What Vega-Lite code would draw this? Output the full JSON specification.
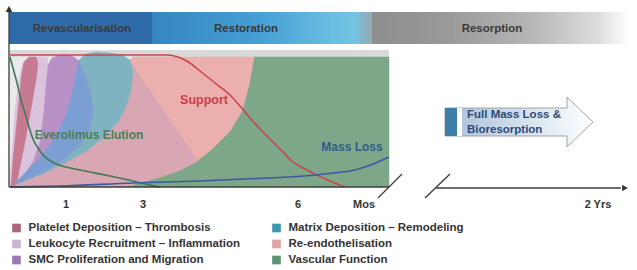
{
  "$schema": "https://vega.github.io/schema/vega-lite/v6.json",
  "width": 637,
  "height": 270,
  "autosize": {"type": "fit", "contains": "padding"},
  "padding": 0,
  "background": "white",
  "config": {"view": {"stroke": null}, "text": {"font": "Liberation Sans"}},
  "datasets": {
    "rects": [
      {"id": "band1", "x": 9, "x2": 152, "y": 12, "y2": 44},
      {"id": "band2", "x": 152, "x2": 372, "y": 12, "y2": 44},
      {"id": "band3", "x": 372, "x2": 637, "y": 12, "y2": 44},
      {"id": "frame", "x": 9, "x2": 389, "y": 57, "y2": 187},
      {"id": "topbar", "x": 9, "x2": 389, "y": 50, "y2": 57},
      {"id": "strip1", "x": 445, "x2": 457, "y": 108, "y2": 136},
      {"id": "strip2", "x": 457, "x2": 462, "y": 108, "y2": 136}
    ],
    "shapes": [
      {"s": "green", "i": 0, "x": 128, "y": 187}, {"s": "green", "i": 1, "x": 137, "y": 183}, {"s": "green", "i": 2, "x": 157, "y": 178}, {"s": "green", "i": 3, "x": 180, "y": 170}, {"s": "green", "i": 4, "x": 197, "y": 161}, {"s": "green", "i": 5, "x": 213, "y": 148}, {"s": "green", "i": 6, "x": 230, "y": 131}, {"s": "green", "i": 7, "x": 242, "y": 111}, {"s": "green", "i": 8, "x": 249, "y": 85}, {"s": "green", "i": 9, "x": 252, "y": 68}, {"s": "green", "i": 10, "x": 254, "y": 57}, {"s": "green", "i": 11, "x": 389, "y": 57}, {"s": "green", "i": 12, "x": 389, "y": 187},
      {"s": "pink", "i": 0, "x": 10, "y": 187}, {"s": "pink", "i": 1, "x": 133, "y": 57}, {"s": "pink", "i": 2, "x": 254, "y": 57}, {"s": "pink", "i": 3, "x": 252, "y": 68}, {"s": "pink", "i": 4, "x": 249, "y": 85}, {"s": "pink", "i": 5, "x": 242, "y": 111}, {"s": "pink", "i": 6, "x": 230, "y": 131}, {"s": "pink", "i": 7, "x": 213, "y": 148}, {"s": "pink", "i": 8, "x": 197, "y": 161}, {"s": "pink", "i": 9, "x": 180, "y": 170}, {"s": "pink", "i": 10, "x": 157, "y": 178}, {"s": "pink", "i": 11, "x": 137, "y": 183}, {"s": "pink", "i": 12, "x": 128, "y": 187},
      {"s": "mauve", "i": 0, "x": 10, "y": 187}, {"s": "mauve", "i": 1, "x": 132, "y": 64}, {"s": "mauve", "i": 2, "x": 198, "y": 161}, {"s": "mauve", "i": 3, "x": 180, "y": 170}, {"s": "mauve", "i": 4, "x": 157, "y": 178}, {"s": "mauve", "i": 5, "x": 137, "y": 183}, {"s": "mauve", "i": 6, "x": 128, "y": 187},
      {"s": "teal", "i": 0, "x": 10, "y": 187}, {"s": "teal", "i": 1, "x": 22, "y": 176}, {"s": "teal", "i": 2, "x": 40, "y": 158}, {"s": "teal", "i": 3, "x": 55, "y": 138}, {"s": "teal", "i": 4, "x": 65, "y": 118}, {"s": "teal", "i": 5, "x": 72, "y": 95}, {"s": "teal", "i": 6, "x": 76, "y": 75}, {"s": "teal", "i": 7, "x": 79, "y": 60}, {"s": "teal", "i": 8, "x": 86, "y": 54}, {"s": "teal", "i": 9, "x": 97, "y": 52}, {"s": "teal", "i": 10, "x": 110, "y": 53}, {"s": "teal", "i": 11, "x": 122, "y": 55}, {"s": "teal", "i": 12, "x": 130, "y": 60}, {"s": "teal", "i": 13, "x": 133, "y": 72}, {"s": "teal", "i": 14, "x": 131, "y": 90}, {"s": "teal", "i": 15, "x": 126, "y": 106}, {"s": "teal", "i": 16, "x": 118, "y": 122}, {"s": "teal", "i": 17, "x": 105, "y": 136}, {"s": "teal", "i": 18, "x": 88, "y": 150}, {"s": "teal", "i": 19, "x": 65, "y": 163}, {"s": "teal", "i": 20, "x": 40, "y": 175},
      {"s": "leuko", "i": 0, "x": 10, "y": 187}, {"s": "leuko", "i": 1, "x": 12, "y": 150}, {"s": "leuko", "i": 2, "x": 15, "y": 110}, {"s": "leuko", "i": 3, "x": 19, "y": 80}, {"s": "leuko", "i": 4, "x": 23, "y": 63}, {"s": "leuko", "i": 5, "x": 28, "y": 58}, {"s": "leuko", "i": 6, "x": 40, "y": 57}, {"s": "leuko", "i": 7, "x": 48, "y": 58}, {"s": "leuko", "i": 8, "x": 46, "y": 85}, {"s": "leuko", "i": 9, "x": 44, "y": 112}, {"s": "leuko", "i": 10, "x": 40, "y": 142}, {"s": "leuko", "i": 11, "x": 33, "y": 162}, {"s": "leuko", "i": 12, "x": 22, "y": 178},
      {"s": "smc", "i": 0, "x": 10, "y": 187}, {"s": "smc", "i": 1, "x": 22, "y": 178}, {"s": "smc", "i": 2, "x": 33, "y": 162}, {"s": "smc", "i": 3, "x": 40, "y": 142}, {"s": "smc", "i": 4, "x": 44, "y": 112}, {"s": "smc", "i": 5, "x": 46, "y": 85}, {"s": "smc", "i": 6, "x": 48, "y": 65}, {"s": "smc", "i": 7, "x": 52, "y": 58}, {"s": "smc", "i": 8, "x": 60, "y": 55}, {"s": "smc", "i": 9, "x": 68, "y": 55}, {"s": "smc", "i": 10, "x": 74, "y": 57}, {"s": "smc", "i": 11, "x": 79, "y": 61}, {"s": "smc", "i": 12, "x": 86, "y": 78}, {"s": "smc", "i": 13, "x": 91, "y": 95}, {"s": "smc", "i": 14, "x": 93, "y": 112}, {"s": "smc", "i": 15, "x": 90, "y": 128}, {"s": "smc", "i": 16, "x": 80, "y": 145}, {"s": "smc", "i": 17, "x": 63, "y": 160}, {"s": "smc", "i": 18, "x": 40, "y": 174},
      {"s": "blue", "i": 0, "x": 10, "y": 187}, {"s": "blue", "i": 1, "x": 22, "y": 176}, {"s": "blue", "i": 2, "x": 40, "y": 158}, {"s": "blue", "i": 3, "x": 55, "y": 138}, {"s": "blue", "i": 4, "x": 65, "y": 118}, {"s": "blue", "i": 5, "x": 72, "y": 95}, {"s": "blue", "i": 6, "x": 76, "y": 75}, {"s": "blue", "i": 7, "x": 79, "y": 61}, {"s": "blue", "i": 8, "x": 86, "y": 78}, {"s": "blue", "i": 9, "x": 91, "y": 95}, {"s": "blue", "i": 10, "x": 93, "y": 112}, {"s": "blue", "i": 11, "x": 90, "y": 128}, {"s": "blue", "i": 12, "x": 80, "y": 145}, {"s": "blue", "i": 13, "x": 63, "y": 160}, {"s": "blue", "i": 14, "x": 40, "y": 174},
      {"s": "platelet", "i": 0, "x": 11, "y": 186}, {"s": "platelet", "i": 1, "x": 13, "y": 160}, {"s": "platelet", "i": 2, "x": 16, "y": 130}, {"s": "platelet", "i": 3, "x": 19, "y": 100}, {"s": "platelet", "i": 4, "x": 22, "y": 72}, {"s": "platelet", "i": 5, "x": 24, "y": 62}, {"s": "platelet", "i": 6, "x": 29, "y": 57}, {"s": "platelet", "i": 7, "x": 36, "y": 57}, {"s": "platelet", "i": 8, "x": 38, "y": 63}, {"s": "platelet", "i": 9, "x": 36, "y": 80}, {"s": "platelet", "i": 10, "x": 33, "y": 98}, {"s": "platelet", "i": 11, "x": 29, "y": 120}, {"s": "platelet", "i": 12, "x": 25, "y": 142}, {"s": "platelet", "i": 13, "x": 21, "y": 162}, {"s": "platelet", "i": 14, "x": 17, "y": 181}, {"s": "platelet", "i": 15, "x": 13, "y": 187},
      {"s": "arrow", "i": 0, "x": 445, "y": 108}, {"s": "arrow", "i": 1, "x": 567, "y": 108}, {"s": "arrow", "i": 2, "x": 567, "y": 97}, {"s": "arrow", "i": 3, "x": 593, "y": 122}, {"s": "arrow", "i": 4, "x": 567, "y": 147}, {"s": "arrow", "i": 5, "x": 567, "y": 136}, {"s": "arrow", "i": 6, "x": 445, "y": 136}, {"s": "arrow", "i": 7, "x": 445, "y": 108}
    ],
    "curves": [
      {"s": "Support", "x": 10, "y": 55}, {"s": "Support", "x": 167, "y": 55}, {"s": "Support", "x": 178, "y": 57}, {"s": "Support", "x": 190, "y": 63}, {"s": "Support", "x": 200, "y": 71}, {"s": "Support", "x": 215, "y": 83}, {"s": "Support", "x": 230, "y": 95}, {"s": "Support", "x": 240, "y": 106}, {"s": "Support", "x": 250, "y": 118}, {"s": "Support", "x": 260, "y": 129}, {"s": "Support", "x": 270, "y": 139}, {"s": "Support", "x": 282, "y": 151}, {"s": "Support", "x": 293, "y": 162}, {"s": "Support", "x": 305, "y": 169}, {"s": "Support", "x": 317, "y": 175}, {"s": "Support", "x": 330, "y": 181}, {"s": "Support", "x": 345, "y": 187},
      {"s": "Everolimus", "x": 10, "y": 57}, {"s": "Everolimus", "x": 13, "y": 68}, {"s": "Everolimus", "x": 17, "y": 83}, {"s": "Everolimus", "x": 21, "y": 100}, {"s": "Everolimus", "x": 25, "y": 113}, {"s": "Everolimus", "x": 29, "y": 127}, {"s": "Everolimus", "x": 33, "y": 139}, {"s": "Everolimus", "x": 38, "y": 148}, {"s": "Everolimus", "x": 44, "y": 156}, {"s": "Everolimus", "x": 52, "y": 162}, {"s": "Everolimus", "x": 62, "y": 166}, {"s": "Everolimus", "x": 75, "y": 169}, {"s": "Everolimus", "x": 90, "y": 172}, {"s": "Everolimus", "x": 110, "y": 176}, {"s": "Everolimus", "x": 133, "y": 181}, {"s": "Everolimus", "x": 150, "y": 185}, {"s": "Everolimus", "x": 160, "y": 187},
      {"s": "Mass", "x": 10, "y": 187}, {"s": "Mass", "x": 60, "y": 186}, {"s": "Mass", "x": 133, "y": 183}, {"s": "Mass", "x": 200, "y": 181}, {"s": "Mass", "x": 267, "y": 178}, {"s": "Mass", "x": 310, "y": 175.5}, {"s": "Mass", "x": 333, "y": 173}, {"s": "Mass", "x": 350, "y": 171}, {"s": "Mass", "x": 365, "y": 167}, {"s": "Mass", "x": 378, "y": 162}, {"s": "Mass", "x": 389, "y": 157}
    ],
    "rules": [
      {"id": "yaxis", "x": 9, "y": 187, "x2": 9, "y2": 11},
      {"id": "xaxis", "x": 9, "y": 187, "x2": 389, "y2": 187},
      {"id": "slash1", "x": 378, "y": 198, "x2": 402, "y2": 174},
      {"id": "slash2", "x": 425, "y": 198, "x2": 450, "y2": 174},
      {"id": "xaxis2", "x": 436, "y": 188, "x2": 621, "y2": 188}
    ],
    "heads": [
      {"dir": "up", "x": 9, "y": 9},
      {"dir": "right", "x": 625, "y": 188}
    ],
    "texts": [
      {"g": "hdr", "t": "Revascularisation", "x": 82, "y": 29},
      {"g": "hdr", "t": "Restoration", "x": 246, "y": 29},
      {"g": "hdr", "t": "Resorption", "x": 492, "y": 29},
      {"g": "evero", "t": "Everolimus Elution", "x": 89, "y": 135},
      {"g": "support", "t": "Support", "x": 204, "y": 100},
      {"g": "mass", "t": "Mass Loss", "x": 352, "y": 147},
      {"g": "axis", "t": "1", "x": 66, "y": 205},
      {"g": "axis", "t": "3", "x": 143, "y": 205},
      {"g": "axis", "t": "6", "x": 298, "y": 205},
      {"g": "axis", "t": "Mos", "x": 364, "y": 205},
      {"g": "axis", "t": "2 Yrs", "x": 598, "y": 205},
      {"g": "arrow", "t": "Full Mass Loss &", "x": 467, "y": 115},
      {"g": "arrow", "t": "Bioresorption", "x": 467, "y": 130}
    ],
    "legend": [
      {"key": "Platelet", "label": "Platelet Deposition – Thrombosis", "x": 16.5, "y": 228},
      {"key": "Leukocyte", "label": "Leukocyte Recruitment – Inflammation", "x": 16.5, "y": 244},
      {"key": "SMC", "label": "SMC Proliferation and Migration", "x": 16.5, "y": 260},
      {"key": "Matrix", "label": "Matrix Deposition – Remodeling", "x": 276.5, "y": 228},
      {"key": "Reendo", "label": "Re-endothelisation", "x": 276.5, "y": 244},
      {"key": "Vascular", "label": "Vascular Function", "x": 276.5, "y": 260}
    ]
  },
  "encoding": {
    "x": {"field": "x", "type": "quantitative", "scale": {"domain": [0, 637], "nice": false, "zero": false}, "axis": null},
    "y": {"field": "y", "type": "quantitative", "scale": {"domain": [0, 270], "reverse": true, "nice": false, "zero": false}, "axis": null}
  },
  "layer": [
    {"data": {"name": "rects"}, "transform": [{"filter": "datum.id == 'band1'"}], "mark": {"type": "rect", "fill": "#2f6ca9"}, "encoding": {"x2": {"field": "x2"}, "y2": {"field": "y2"}}},
    {"data": {"name": "rects"}, "transform": [{"filter": "datum.id == 'band2'"}], "mark": {"type": "rect", "fill": {"gradient": "linear", "x1": 0, "y1": 0, "x2": 1, "y2": 0, "stops": [{"offset": 0, "color": "#3586c0"}, {"offset": 0.5, "color": "#45a0d4"}, {"offset": 0.82, "color": "#69bee2"}, {"offset": 0.92, "color": "#74c3e2"}, {"offset": 1, "color": "#98a8b0"}]}}, "encoding": {"x2": {"field": "x2"}, "y2": {"field": "y2"}}},
    {"data": {"name": "rects"}, "transform": [{"filter": "datum.id == 'band3'"}], "mark": {"type": "rect", "fill": {"gradient": "linear", "x1": 0, "y1": 0, "x2": 1, "y2": 0, "stops": [{"offset": 0, "color": "#8e8e8e"}, {"offset": 0.3, "color": "#9a9a9a"}, {"offset": 0.6, "color": "#b6b6b6"}, {"offset": 0.85, "color": "#dcdcdc"}, {"offset": 0.97, "color": "#ffffff"}, {"offset": 1, "color": "#ffffff"}]}}, "encoding": {"x2": {"field": "x2"}, "y2": {"field": "y2"}}},
    {"data": {"name": "rects"}, "transform": [{"filter": "datum.id == 'topbar'"}], "mark": {"type": "rect", "fill": "#d9d9d9"}, "encoding": {"x2": {"field": "x2"}, "y2": {"field": "y2"}}},
    {"data": {"name": "rects"}, "transform": [{"filter": "datum.id == 'frame'"}], "mark": {"type": "rect", "fill": "#ebe8ea"}, "encoding": {"x2": {"field": "x2"}, "y2": {"field": "y2"}}},
    {"data": {"name": "shapes"}, "transform": [{"filter": "datum.s == 'green'"}], "mark": {"type": "line", "fill": "#7da788", "stroke": "#7da788", "strokeWidth": 0.5}, "encoding": {"order": {"field": "i"}}},
    {"data": {"name": "shapes"}, "transform": [{"filter": "datum.s == 'pink'"}], "mark": {"type": "line", "fill": "#ebb0ae", "stroke": "#ebb0ae", "strokeWidth": 0.5}, "encoding": {"order": {"field": "i"}}},
    {"data": {"name": "shapes"}, "transform": [{"filter": "datum.s == 'mauve'"}], "mark": {"type": "line", "fill": "#d8a7b3", "stroke": "#d8a7b3", "strokeWidth": 0.5}, "encoding": {"order": {"field": "i"}}},
    {"data": {"name": "shapes"}, "transform": [{"filter": "datum.s == 'teal'"}], "mark": {"type": "line", "fill": "#7fb3c2", "stroke": "#7fb3c2", "strokeWidth": 0.5}, "encoding": {"order": {"field": "i"}}},
    {"data": {"name": "shapes"}, "transform": [{"filter": "datum.s == 'leuko'"}], "mark": {"type": "line", "fill": "#dcc3dd", "stroke": "#dcc3dd", "strokeWidth": 0.5}, "encoding": {"order": {"field": "i"}}},
    {"data": {"name": "shapes"}, "transform": [{"filter": "datum.s == 'smc'"}], "mark": {"type": "line", "fill": "#b892c7", "stroke": "#b892c7", "strokeWidth": 0.5}, "encoding": {"order": {"field": "i"}}},
    {"data": {"name": "shapes"}, "transform": [{"filter": "datum.s == 'blue'"}], "mark": {"type": "line", "fill": "#7b9fd2", "stroke": "#7b9fd2", "strokeWidth": 0.5}, "encoding": {"order": {"field": "i"}}},
    {"data": {"name": "shapes"}, "transform": [{"filter": "datum.s == 'platelet'"}], "mark": {"type": "line", "fill": "#c67a92", "stroke": "#c67a92", "strokeWidth": 0.5}, "encoding": {"order": {"field": "i"}}},
    {"data": {"name": "curves"}, "mark": {"type": "line", "interpolate": "monotone", "strokeWidth": 1.6}, "encoding": {"detail": {"field": "s"}, "stroke": {"field": "s", "type": "nominal", "scale": {"domain": ["Support", "Everolimus", "Mass"], "range": ["#c9474c", "#3f7a55", "#3b5ba0"]}, "legend": null}}},
    {"data": {"name": "rules"}, "mark": {"type": "rule", "color": "#3c3c3c", "strokeWidth": 1.3}, "encoding": {"x2": {"field": "x2"}, "y2": {"field": "y2"}}},
    {"data": {"name": "heads"}, "mark": {"type": "point", "filled": true, "opacity": 1, "color": "#333333", "size": 45}, "encoding": {"shape": {"field": "dir", "type": "nominal", "scale": {"domain": ["up", "right"], "range": ["triangle-up", "triangle-right"]}, "legend": null}}},
    {"data": {"name": "shapes"}, "transform": [{"filter": "datum.s == 'arrow'"}], "mark": {"type": "line", "fill": {"gradient": "linear", "x1": 0, "y1": 0, "x2": 1, "y2": 0, "stops": [{"offset": 0, "color": "#a6bfd6"}, {"offset": 0.55, "color": "#d6e2ec"}, {"offset": 1, "color": "#ffffff"}]}, "stroke": "#9a9a9a", "strokeWidth": 0.9}, "encoding": {"order": {"field": "i"}}},
    {"data": {"name": "rects"}, "transform": [{"filter": "datum.id == 'strip1'"}], "mark": {"type": "rect", "fill": "#3d7fa8"}, "encoding": {"x2": {"field": "x2"}, "y2": {"field": "y2"}}},
    {"data": {"name": "rects"}, "transform": [{"filter": "datum.id == 'strip2'"}], "mark": {"type": "rect", "fill": "#ffffff"}, "encoding": {"x2": {"field": "x2"}, "y2": {"field": "y2"}}},
    {"data": {"name": "texts"}, "transform": [{"filter": "datum.g == 'hdr'"}], "mark": {"type": "text", "fontWeight": "bold", "fontSize": 11.5, "color": "#3a3a3a", "align": "center", "baseline": "middle"}, "encoding": {"text": {"field": "t"}}},
    {"data": {"name": "texts"}, "transform": [{"filter": "datum.g == 'evero'"}], "mark": {"type": "text", "fontWeight": "bold", "fontSize": 12, "color": "#4a8053", "align": "center", "baseline": "middle"}, "encoding": {"text": {"field": "t"}}},
    {"data": {"name": "texts"}, "transform": [{"filter": "datum.g == 'support'"}], "mark": {"type": "text", "fontWeight": "bold", "fontSize": 12.5, "color": "#cc3d45", "align": "center", "baseline": "middle"}, "encoding": {"text": {"field": "t"}}},
    {"data": {"name": "texts"}, "transform": [{"filter": "datum.g == 'mass'"}], "mark": {"type": "text", "fontWeight": "bold", "fontSize": 12, "color": "#2f5d8f", "align": "center", "baseline": "middle"}, "encoding": {"text": {"field": "t"}}},
    {"data": {"name": "texts"}, "transform": [{"filter": "datum.g == 'axis'"}], "mark": {"type": "text", "fontWeight": "bold", "fontSize": 11, "color": "#333333", "align": "center", "baseline": "middle"}, "encoding": {"text": {"field": "t"}}},
    {"data": {"name": "texts"}, "transform": [{"filter": "datum.g == 'arrow'"}], "mark": {"type": "text", "fontWeight": "bold", "fontSize": 11.5, "color": "#2d4a7a", "align": "left", "baseline": "middle"}, "encoding": {"text": {"field": "t"}}},
    {"data": {"name": "legend"}, "mark": {"type": "square", "size": 75, "filled": true, "opacity": 1}, "encoding": {"fill": {"field": "key", "type": "nominal", "scale": {"domain": ["Platelet", "Leukocyte", "SMC", "Matrix", "Reendo", "Vascular"], "range": ["#ad6676", "#cbb5d5", "#9a78b6", "#3e98b2", "#e2a3a3", "#5f9471"]}, "legend": null}}},
    {"data": {"name": "legend"}, "mark": {"type": "text", "fontWeight": "bold", "fontSize": 11.5, "color": "#333333", "align": "left", "baseline": "middle", "dx": 12}, "encoding": {"text": {"field": "label"}}}
  ]
}
